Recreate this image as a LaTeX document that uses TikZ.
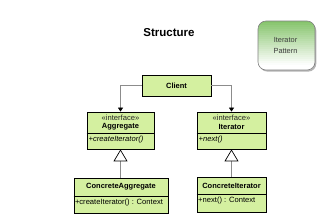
\documentclass[tikz,border=0pt]{standalone}
\usepackage{fontspec}
\setmainfont{Liberation Sans}
\usetikzlibrary{arrows.meta}
\definecolor{umlfill}{HTML}{D4F0A0}
\definecolor{linegray}{HTML}{8C8C8C}
\definecolor{patgreen}{HTML}{86C46C}
\definecolor{pattext}{HTML}{3C3C3C}
\definecolor{shadowgray}{HTML}{B4B4B4}
\begin{document}
\begin{tikzpicture}[x=1pt,y=-1pt,
  cls/.style={draw=black, line width=0.8pt, fill=umlfill, inner sep=0pt},
  stereo/.style={inner sep=0pt, font=\fontsize{7.6}{9}\selectfont, text=black!85},
  cname/.style={inner sep=0pt, font=\fontsize{7.5}{9}\selectfont\bfseries},
  member/.style={inner sep=0pt, anchor=west, font=\fontsize{7.6}{9}\selectfont},
  divider/.style={line width=0.6pt, black},
  assoc/.style={draw=linegray, line width=0.7pt, -{Triangle[length=4pt,width=5pt,fill=black,color=black]}},
  inherit/.style={draw=linegray, line width=0.7pt, -{Triangle[open,length=12pt,width=14pt,fill=white,color=black,line width=0.7pt]}}
]
\useasboundingbox (0,0) rectangle (334,220);

% title
\node[inner sep=0pt, font=\fontsize{11.5}{13}\selectfont\bfseries] (title) at (169,33) {Structure};

% pattern badge: shadow, gradient, outline
\fill[shadowgray, rounded corners=8pt] (259.3,22.6) rectangle (316.3,71.6);
\begin{scope}
  \clip[rounded corners=8pt] (258,21) rectangle (315,70);
  \fill[white] (258,21) rectangle (315,70);
  \foreach \k in {0,...,24} {
    \pgfmathtruncatemacro\pct{max(0,100-4.6*\k)}
    \fill[color=patgreen!\pct!white] (258,21+2*\k) rectangle (315,23.4+2*\k);
  }
\end{scope}
\node[draw=gray, line width=0.6pt, rounded corners=8pt, minimum width=57pt, minimum height=49pt, inner sep=0pt] (pat) at (286.5,45.5) {};
\node[align=center, inner sep=0pt, text=pattext, font=\fontsize{7.4}{11.5}\selectfont] (pattxt) at (285.5,45.5) {Iterator\\Pattern};

% Client
\node[cls, minimum width=69pt, minimum height=21pt] (client) at (176.5,85.5) {};
\node[cname] (clientN) at (176.5,85.5) {Client};

% Aggregate
\node[cls, minimum width=67pt, minimum height=37pt] (agg) at (120.5,130.5) {};
\draw[divider] (agg.west |- 0,133) -- (agg.east |- 0,133);
\node[stereo] (aggS) at (120.5,117.5) {«interface»};
\node[cname] (aggN) at (120.5,127) {Aggregate};
\node[member] (aggM) at (88.5,139.5) {\itshape +createIterator()};

% Iterator
\node[cls, minimum width=69pt, minimum height=37pt] (it) at (231.5,130.5) {};
\draw[divider] (it.west |- 0,133) -- (it.east |- 0,133);
\node[stereo] (itS) at (231.5,117.5) {«interface»};
\node[cname] (itN) at (231.5,127) {Iterator};
\node[member] (itM) at (198.5,139.5) {\itshape +next()};

% ConcreteAggregate
\node[cls, minimum width=94pt, minimum height=35pt] (cagg) at (121,195.5) {};
\draw[divider] (cagg.west |- 0,196) -- (cagg.east |- 0,196);
\node[cname] (caggN) at (121,187) {ConcreteAggregate};
\node[member] (caggM) at (74.8,202.5) {+createIterator() : Context};

% ConcreteIterator
\node[cls, minimum width=69pt, minimum height=35pt] (cit) at (231.5,194.5) {};
\draw[divider] (cit.west |- 0,194) -- (cit.east |- 0,194);
\node[cname] (citN) at (231.5,186) {ConcreteIterator};
\node[member] (citM) at (198,200.5) {+next() : Context};

% connectors
\draw[assoc] (client.west) -| (agg.north);
\draw[assoc] (client.east) -| (it.north);
\draw[inherit] (cagg.north -| agg.south) -- (agg.south);
\draw[inherit] (cit.north) -- (it.south);
\end{tikzpicture}
\end{document}
